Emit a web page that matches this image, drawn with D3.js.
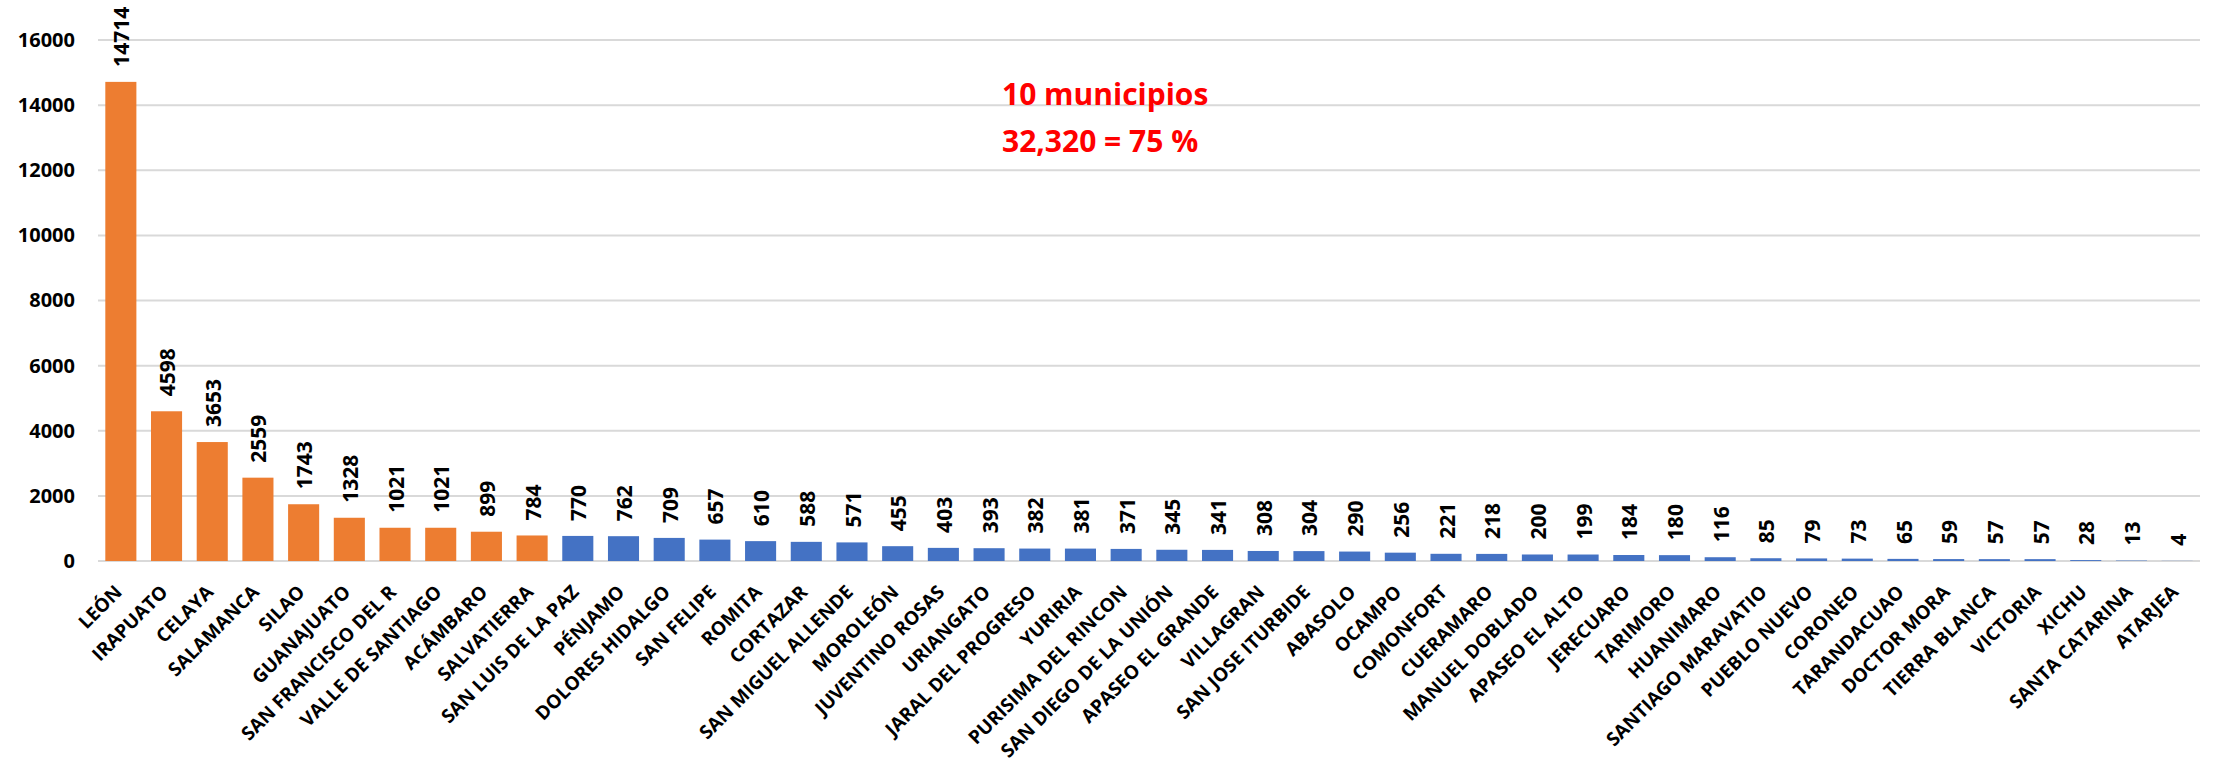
<!DOCTYPE html>
<html>
<head>
<meta charset="utf-8">
<script src="https://cdn.jsdelivr.net/npm/d3@7"></script>
<style>
  body { margin: 0; background: #fff; }
  text { font-family: "Open Sans", sans-serif; font-weight: bold; }
</style>
</head>
<body>
<div id="chart"></div>
<script>
// data
var municipios = ["LEÓN", "IRAPUATO", "CELAYA", "SALAMANCA", "SILAO", "GUANAJUATO",
  "SAN FRANCISCO DEL R", "VALLE DE SANTIAGO", "ACÁMBARO", "SALVATIERRA",
  "SAN LUIS DE LA PAZ", "PÉNJAMO", "DOLORES HIDALGO", "SAN FELIPE", "ROMITA",
  "CORTAZAR", "SAN MIGUEL ALLENDE", "MOROLEÓN", "JUVENTINO ROSAS", "URIANGATO",
  "JARAL DEL PROGRESO", "YURIRIA", "PURISIMA DEL RINCON", "SAN DIEGO DE LA UNIÓN",
  "APASEO EL GRANDE", "VILLAGRAN", "SAN JOSE ITURBIDE", "ABASOLO", "OCAMPO",
  "COMONFORT", "CUERAMARO", "MANUEL DOBLADO", "APASEO EL ALTO", "JERECUARO",
  "TARIMORO", "HUANIMARO", "SANTIAGO MARAVATIO", "PUEBLO NUEVO", "CORONEO",
  "TARANDACUAO", "DOCTOR MORA", "TIERRA BLANCA", "VICTORIA", "XICHU",
  "SANTA CATARINA", "ATARJEA"];
var casos = [14714, 4598, 3653, 2559, 1743, 1328, 1021, 1021, 899, 784,
  770, 762, 709, 657, 610, 588, 571, 455, 403, 393,
  382, 381, 371, 345, 341, 308, 304, 290, 256, 221,
  218, 200, 199, 184, 180, 116, 85, 79, 73, 65,
  59, 57, 57, 28, 13, 4];
var yTicks = [0, 2000, 4000, 6000, 8000, 10000, 12000, 14000, 16000];
var topCount = 10;
var notaLineas = ["10 municipios", "32,320 = 75 %"];

// SVG area
var svgWidth = 2216;
var svgHeight = 766;
var chartMargin = { top: 40, right: 16, bottom: 205, left: 98 };
var chartWidth = svgWidth - chartMargin.left - chartMargin.right;
var chartHeight = svgHeight - chartMargin.top - chartMargin.bottom;

var svg = d3.select("#chart")
  .append("svg")
  .attr("width", svgWidth)
  .attr("height", svgHeight);

var chartGroup = svg.append("g")
  .attr("transform", "translate(" + chartMargin.left + ", " + chartMargin.top + ")");

var xBandScale = d3.scaleBand().domain(municipios).range([0, chartWidth]).paddingInner(0.32).paddingOuter(0.16);
var yLinearScale = d3.scaleLinear().domain([0, 16000]).range([chartHeight, 0]);

// gridlines
chartGroup.selectAll(".grid")
  .data(yTicks)
  .enter()
  .append("line")
  .attr("x1", 0)
  .attr("x2", chartWidth)
  .attr("y1", function (d) { return yLinearScale(d); })
  .attr("y2", function (d) { return yLinearScale(d); })
  .attr("stroke", "#d9d9d9")
  .attr("stroke-width", 2);

// left axis (labels only)
var leftAxis = d3.axisLeft(yLinearScale).tickValues(yTicks).tickSize(0).tickPadding(23).tickFormat(d3.format("d"));
var yAxisG = chartGroup.append("g").call(leftAxis);
yAxisG.select(".domain").remove();
yAxisG.selectAll("text")
  .attr("font-size", 20)
  .attr("font-family", "Open Sans, sans-serif")
  .attr("font-weight", "bold")
  .attr("fill", "#000");

// bars
var datos = municipios.map(function (m, i) { return { nombre: m, valor: casos[i], i: i }; });

chartGroup.selectAll(".bar")
  .data(datos)
  .enter()
  .append("rect")
  .attr("class", "bar")
  .attr("x", function (d) { return xBandScale(d.nombre); })
  .attr("y", function (d) { return yLinearScale(d.valor); })
  .attr("width", xBandScale.bandwidth())
  .attr("height", function (d) { return chartHeight - yLinearScale(d.valor); })
  .attr("fill", function (d) { return d.i < topCount ? "#ed7d31" : "#4472c4"; });

// value labels
chartGroup.selectAll(".valor")
  .data(datos)
  .enter()
  .append("text")
  .attr("class", "valor")
  .attr("transform", function (d) {
    var cx = xBandScale(d.nombre) + xBandScale.bandwidth() / 2;
    return "translate(" + (cx + 1) + "," + (yLinearScale(d.valor) - 15) + ") rotate(-90)";
  })
  .attr("dy", "0.36em")
  .attr("font-size", 21)
  .attr("fill", "#000")
  .text(function (d) { return d.valor; });

// bottom axis (labels only)
var bottomAxis = d3.axisBottom(xBandScale).tickSize(0).tickPadding(0);
var xAxisG = chartGroup.append("g")
  .attr("transform", "translate(0, " + chartHeight + ")")
  .call(bottomAxis);
xAxisG.select(".domain").remove();
xAxisG.selectAll("text")
  .attr("font-size", 19)
  .attr("font-family", "Open Sans, sans-serif")
  .attr("font-weight", "bold")
  .attr("fill", "#000")
  .attr("text-anchor", "end")
  .attr("dy", null)
  .attr("y", 0)
  .attr("transform", "translate(-9, 21) rotate(-45)")
  .attr("dominant-baseline", "hanging");

// note
svg.append("text")
  .attr("x", 1002)
  .attr("y", 105)
  .attr("font-size", 30)
  .attr("fill", "#ff0000")
  .text(notaLineas[0]);
svg.append("text")
  .attr("x", 1002)
  .attr("y", 152)
  .attr("font-size", 30)
  .attr("fill", "#ff0000")
  .text(notaLineas[1]);
</script>
</body>
</html>
